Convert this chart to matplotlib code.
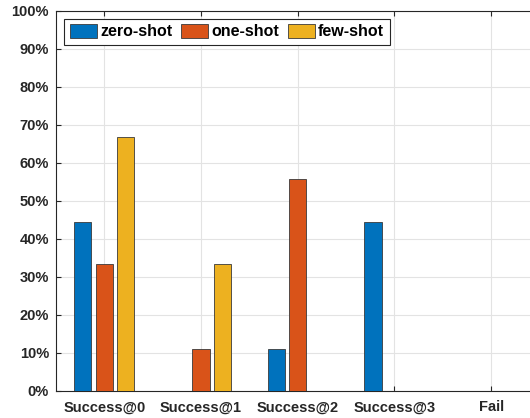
import numpy as np
import matplotlib.pyplot as plt
from matplotlib.ticker import PercentFormatter

categories = ['Success@0', 'Success@1', 'Success@2', 'Success@3', 'Fail']
series_names = ['zero-shot', 'one-shot', 'few-shot']
zero_shot = [44.4, 0, 11.1, 44.4, 0]
one_shot = [33.3, 11.1, 55.6, 0, 0]
few_shot = [66.7, 33.3, 0, 0, 0]

colors = ['#0072BD', '#D95319', '#EDB120']
axis_col = '#262626'

plt.rcParams['font.family'] = ['Liberation Sans', 'DejaVu Sans']
plt.rcParams['font.weight'] = 'bold'

fig = plt.figure(figsize=(5.3, 4.18), dpi=100)
# axes runs a little past the right edge, as in the reference
ax = fig.add_axes([56 / 530, 27.3 / 418, 483.5 / 530, 380 / 418])

x = np.arange(1, len(categories) + 1)
offsets = [-2 / 9, 0, 2 / 9]
width = 0.8 * 2 / 9
for vals, off, col, name in zip([zero_shot, one_shot, few_shot], offsets, colors, series_names):
    ax.bar(x + off, vals, width=width, color=col, edgecolor='#3a3a3a',
           linewidth=0.6, label=name, zorder=3)

ax.set_xlim(0.5, 5.5)
ax.set_ylim(0, 100)
ax.set_xticks(x)
ax.set_xticklabels(categories)
ax.set_yticks(np.arange(0, 101, 10))
ax.yaxis.set_major_formatter(PercentFormatter(decimals=0))

ax.grid(True, color='#e3e3e3', linewidth=0.8, zorder=0)
ax.set_axisbelow(True)
for s in ax.spines.values():
    s.set_color(axis_col)
    s.set_linewidth(0.8)
ax.tick_params(direction='in', length=3.5, width=0.8, color=axis_col,
               labelsize=10.5, labelcolor=axis_col, top=True, right=True, pad=5)
ax.tick_params(axis='x', pad=7)
for lab in ax.get_xticklabels() + ax.get_yticklabels():
    lab.set_fontweight('bold')

leg = ax.legend(loc='upper left', ncol=3, fontsize=11.5, frameon=True,
                fancybox=False, edgecolor=axis_col, framealpha=1,
                handlelength=1.7, handleheight=0.9, handletextpad=0.2,
                columnspacing=0.55, borderpad=0.35, borderaxespad=0.5)
leg.get_frame().set_linewidth(0.8)
for t in leg.get_texts():
    t.set_fontweight('bold')
    t.set_color('black')

fig.savefig('out.png', dpi=100)
